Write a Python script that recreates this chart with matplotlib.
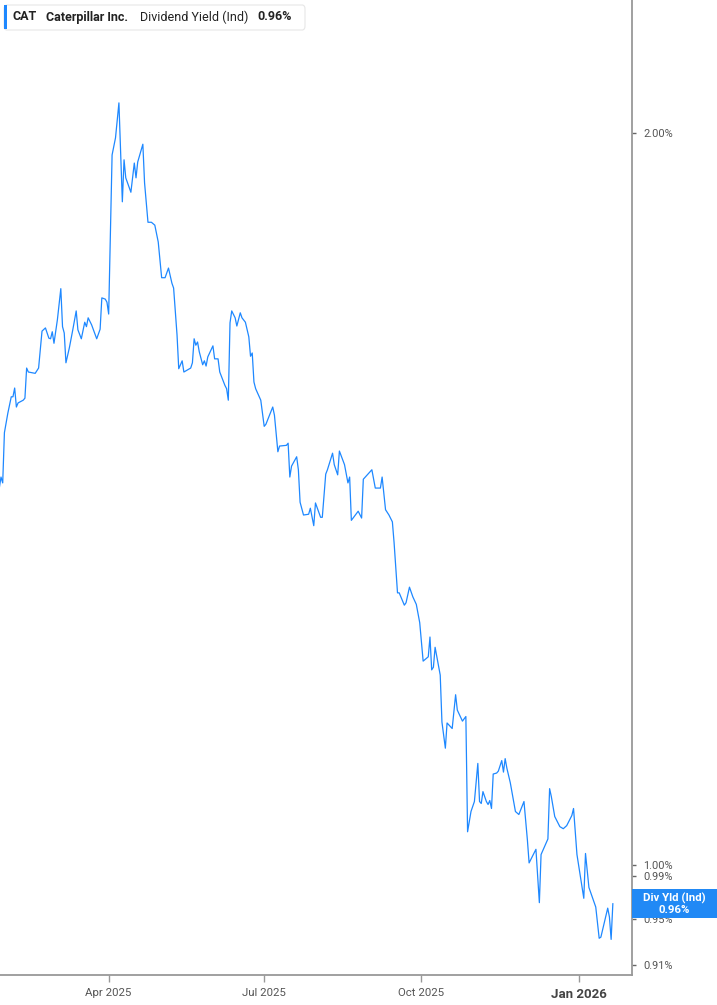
import datetime as dt

import matplotlib
matplotlib.use("Agg")
import matplotlib.dates as mdates
import matplotlib.pyplot as plt
from matplotlib.patches import FancyBboxPatch, Rectangle
from matplotlib.ticker import FixedLocator, NullLocator, FixedFormatter

plt.rcParams["font.family"] = ["Roboto", "DejaVu Sans"]

# CAT dividend yield (%)
DATES = [
    "2025-01-27", "2025-01-28", "2025-01-29", "2025-01-30", "2025-02-01", "2025-02-03",
    "2025-02-04", "2025-02-05", "2025-02-06", "2025-02-07", "2025-02-10", "2025-02-11",
    "2025-02-12", "2025-02-13", "2025-02-17", "2025-02-19", "2025-02-21", "2025-02-23",
    "2025-02-25", "2025-02-26", "2025-02-27", "2025-02-28", "2025-03-02", "2025-03-04",
    "2025-03-05", "2025-03-06", "2025-03-07", "2025-03-09", "2025-03-11", "2025-03-13",
    "2025-03-14", "2025-03-16", "2025-03-18", "2025-03-19", "2025-03-20", "2025-03-22",
    "2025-03-25", "2025-03-27", "2025-03-28", "2025-03-30", "2025-03-31", "2025-04-01",
    "2025-04-03", "2025-04-05", "2025-04-07", "2025-04-09", "2025-04-10", "2025-04-11",
    "2025-04-14", "2025-04-16", "2025-04-17", "2025-04-18", "2025-04-21", "2025-04-22",
    "2025-04-24", "2025-04-26", "2025-04-28", "2025-04-30", "2025-05-02", "2025-05-04",
    "2025-05-06", "2025-05-08", "2025-05-09", "2025-05-11", "2025-05-12", "2025-05-14",
    "2025-05-15", "2025-05-17", "2025-05-19", "2025-05-20", "2025-05-21", "2025-05-22",
    "2025-05-23", "2025-05-24", "2025-05-26", "2025-05-27", "2025-05-28", "2025-05-29",
    "2025-06-01", "2025-06-02", "2025-06-04", "2025-06-05", "2025-06-08", "2025-06-09",
    "2025-06-10", "2025-06-11", "2025-06-12", "2025-06-14", "2025-06-15", "2025-06-17",
    "2025-06-18", "2025-06-20", "2025-06-22", "2025-06-23", "2025-06-24", "2025-06-25",
    "2025-06-26", "2025-06-29", "2025-07-01", "2025-07-02", "2025-07-06", "2025-07-07",
    "2025-07-09", "2025-07-10", "2025-07-14", "2025-07-15", "2025-07-16", "2025-07-17",
    "2025-07-20", "2025-07-21", "2025-07-22", "2025-07-24", "2025-07-27", "2025-07-28",
    "2025-07-30", "2025-07-31", "2025-08-03", "2025-08-04", "2025-08-06", "2025-08-07",
    "2025-08-10", "2025-08-11", "2025-08-13", "2025-08-14", "2025-08-17", "2025-08-19",
    "2025-08-20", "2025-08-21", "2025-08-25", "2025-08-27", "2025-08-28", "2025-09-02",
    "2025-09-04", "2025-09-07", "2025-09-08", "2025-09-10", "2025-09-12", "2025-09-14",
    "2025-09-15", "2025-09-17", "2025-09-18", "2025-09-21", "2025-09-22", "2025-09-24",
    "2025-09-26", "2025-09-28", "2025-09-30", "2025-10-02", "2025-10-05", "2025-10-06",
    "2025-10-07", "2025-10-08", "2025-10-09", "2025-10-12", "2025-10-13", "2025-10-15",
    "2025-10-16", "2025-10-19", "2025-10-21", "2025-10-22", "2025-10-25", "2025-10-27",
    "2025-10-28", "2025-10-30", "2025-11-01", "2025-11-03", "2025-11-04", "2025-11-05",
    "2025-11-06", "2025-11-08", "2025-11-09", "2025-11-10", "2025-11-11", "2025-11-12",
    "2025-11-14", "2025-11-15", "2025-11-17", "2025-11-18", "2025-11-19", "2025-11-20",
    "2025-11-22", "2025-11-25", "2025-11-27", "2025-11-30", "2025-12-02", "2025-12-03",
    "2025-12-07", "2025-12-09", "2025-12-10", "2025-12-14", "2025-12-15", "2025-12-16",
    "2025-12-18", "2025-12-21", "2025-12-23", "2025-12-25", "2025-12-28", "2025-12-29",
    "2025-12-31", "2026-01-04", "2026-01-05", "2026-01-07", "2026-01-11", "2026-01-13",
    "2026-01-14", "2026-01-18", "2026-01-19", "2026-01-20", "2026-01-21",
]
YIELDS = [
    1.429, 1.444, 1.436, 1.506, 1.534, 1.558,
    1.558, 1.571, 1.543, 1.549, 1.553, 1.556,
    1.601, 1.595, 1.593, 1.601, 1.658, 1.663,
    1.647, 1.646, 1.657, 1.639, 1.676, 1.726,
    1.665, 1.655, 1.609, 1.632, 1.660, 1.690,
    1.660, 1.646, 1.672, 1.665, 1.679, 1.668,
    1.646, 1.661, 1.711, 1.709, 1.704, 1.685,
    1.959, 1.991, 2.058, 1.874, 1.950, 1.917,
    1.891, 1.944, 1.917, 1.946, 1.979, 1.908,
    1.838, 1.838, 1.833, 1.804, 1.744, 1.744,
    1.760, 1.735, 1.727, 1.652, 1.600, 1.612,
    1.595, 1.598, 1.601, 1.609, 1.646, 1.636,
    1.641, 1.626, 1.606, 1.612, 1.604, 1.618,
    1.635, 1.615, 1.615, 1.595, 1.575, 1.570,
    1.553, 1.671, 1.690, 1.679, 1.666, 1.687,
    1.679, 1.672, 1.649, 1.619, 1.624, 1.580,
    1.570, 1.553, 1.515, 1.518, 1.543, 1.531,
    1.479, 1.487, 1.488, 1.491, 1.444, 1.459,
    1.472, 1.454, 1.410, 1.393, 1.394, 1.402,
    1.379, 1.409, 1.390, 1.390, 1.448, 1.454,
    1.477, 1.461, 1.447, 1.480, 1.461, 1.436,
    1.444, 1.386, 1.398, 1.389, 1.441, 1.454,
    1.429, 1.429, 1.444, 1.400, 1.393, 1.384,
    1.357, 1.294, 1.294, 1.279, 1.282, 1.301,
    1.289, 1.280, 1.258, 1.213, 1.218, 1.241,
    1.203, 1.206, 1.229, 1.197, 1.145, 1.117,
    1.144, 1.138, 1.175, 1.158, 1.146, 1.151,
    1.032, 1.052, 1.062, 1.101, 1.062, 1.060,
    1.072, 1.062, 1.059, 1.063, 1.055, 1.090,
    1.091, 1.093, 1.104, 1.092, 1.106, 1.096,
    1.081, 1.052, 1.049, 1.062, 1.024, 1.002,
    1.015, 0.965, 1.010, 1.025, 1.075, 1.067,
    1.047, 1.037, 1.035, 1.038, 1.048, 1.055,
    1.010, 0.969, 1.011, 0.979, 0.961, 0.933,
    0.934, 0.960, 0.952, 0.932, 0.964,
]

Y_TICKS = [0.91, 0.95, 0.99, 1.00, 2.00]
Y_TICK_LABELS = ["0.91%", "0.95%", "0.99%", "1.00%", "2.00%"]
X_TICKS = ["2025-04-01", "2025-07-01", "2025-10-01", "2026-01-01"]
X_TICK_LABELS = ["Apr 2025", "Jul 2025", "Oct 2025", "Jan 2026"]

LINE_BLUE = "#1E88FF"
W, H = 717, 1005


def fx(x):
    return x / W


def fy(y):
    return 1 - y / H


def main() -> None:
    fig = plt.figure(figsize=(W / 100, H / 100), dpi=100)
    fig.patch.set_facecolor("white")
    ax = fig.add_axes([0, fy(975), fx(632), 1 - fy(975)])

    dates = [dt.datetime.strptime(s, "%Y-%m-%d") for s in DATES]
    ax.plot(dates, YIELDS, color=LINE_BLUE, lw=0.9, solid_joinstyle="round")

    ax.set_yscale("log")
    ax.set_ylim(0.9011, 2.2686)
    ax.set_xlim(dt.datetime(2025, 1, 27, 10), dt.datetime(2026, 2, 1, 5))

    # right axis
    ax.yaxis.tick_right()
    ax.yaxis.set_major_locator(FixedLocator(Y_TICKS))
    ax.yaxis.set_major_formatter(FixedFormatter(Y_TICK_LABELS))
    ax.yaxis.set_minor_locator(NullLocator())
    ax.tick_params(axis="y", direction="out", length=3, width=1, color="#666",
                   labelsize=7.9, labelcolor="#555", pad=5)

    xt = [mdates.date2num(dt.datetime.strptime(s, "%Y-%m-%d")) for s in X_TICKS]
    ax.xaxis.set_major_locator(FixedLocator(xt))
    ax.xaxis.set_major_formatter(FixedFormatter(X_TICK_LABELS))
    ax.xaxis.set_minor_locator(NullLocator())
    ax.tick_params(axis="x", direction="out", length=5, width=1, color="#999",
                   labelsize=8.2, labelcolor="#555", pad=4)
    jan = ax.get_xticklabels()[-1]
    jan.set_fontweight("bold")
    jan.set_fontsize(9.5)
    jan.set_color("#444")

    for side in ("left", "top"):
        ax.spines[side].set_visible(False)
    for side in ("right", "bottom"):
        ax.spines[side].set_color("#999")
        ax.spines[side].set_linewidth(1.3)

    # header box
    box = FancyBboxPatch((fx(4), fy(30)), fx(301), (30 - 5) / H,
                         boxstyle="round,pad=0,rounding_size=0.004",
                         transform=fig.transFigure, facecolor="white",
                         edgecolor="#E6E6E6", lw=0.8, zorder=5)
    fig.patches.append(box)
    fig.patches.append(Rectangle((fx(3.5), fy(29)), fx(3), 24 / H,
                                 transform=fig.transFigure, facecolor=LINE_BLUE,
                                 edgecolor="none", zorder=6))
    ty = fy(17)
    kw = dict(va="center", ha="left", fontsize=9, color="#222", zorder=7)
    fig.text(fx(13), ty, "CAT", fontweight="bold", **kw)
    fig.text(fx(46), ty, "Caterpillar Inc.", fontweight="bold", **kw)
    fig.text(fx(140), ty, "Dividend Yield (Ind)", **kw)
    fig.text(fx(257), ty, f"{YIELDS[-1]:.2f}%", fontweight="bold", **kw)

    # last value badge on right axis
    last_px = ax.transData.transform((mdates.date2num(dates[-1]), YIELDS[-1]))[1]
    cy = H - last_px
    fig.patches.append(Rectangle((fx(632), fy(cy + 14.5)), fx(85), 29 / H,
                                 transform=fig.transFigure, facecolor="#2189F5",
                                 edgecolor="none", zorder=5))
    fig.text(fx(674), fy(cy - 5), "Div Yld (Ind)", ha="center", va="center",
             fontsize=8.2, fontweight="bold", color="white", zorder=7)
    fig.text(fx(674), fy(cy + 6.5), f"{YIELDS[-1]:.2f}%", ha="center", va="center",
             fontsize=8.2, fontweight="bold", color="white", zorder=7)

    fig.savefig("out.png", dpi=100, facecolor="white")


if __name__ == "__main__":
    main()
